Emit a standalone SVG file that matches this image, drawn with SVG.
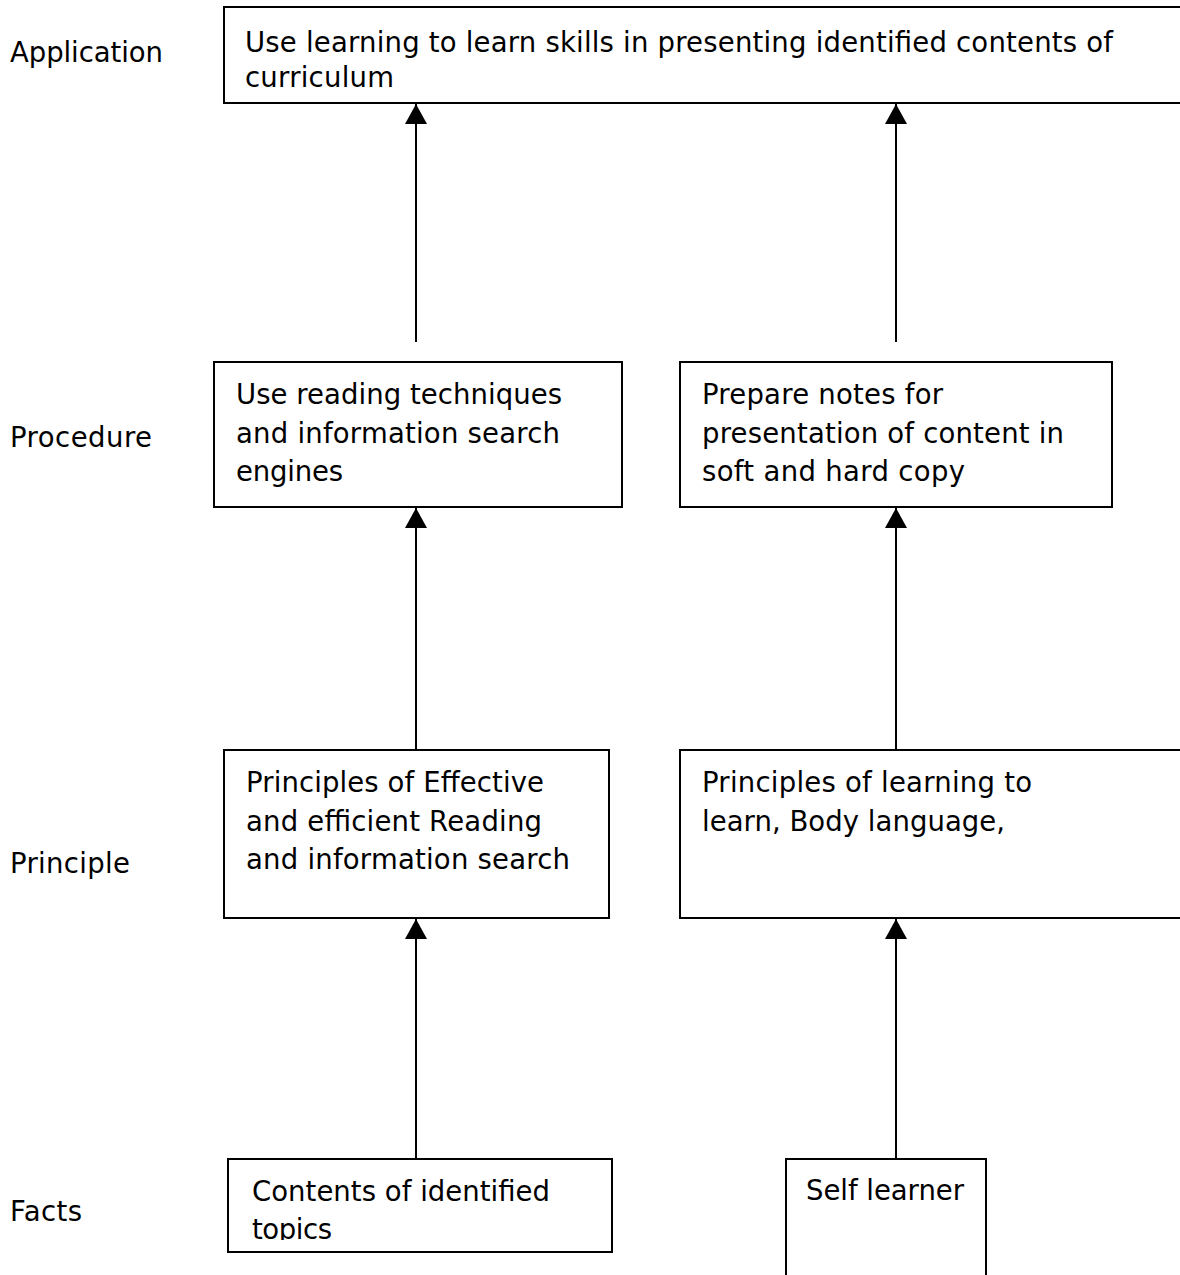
<svg xmlns="http://www.w3.org/2000/svg" width="1180" height="1275" viewBox="0 0 1180 1275">
<defs>
<style>
.t{font-family:"DejaVu Sans","Liberation Sans",sans-serif;font-size:27.5px;fill:#000}
.b{fill:#fff;stroke:#000;stroke-width:2}
.c{stroke:#000;stroke-width:2;fill:none}
</style>
<marker id="ah" viewBox="0 0 20 22" refX="20" refY="11" markerWidth="20" markerHeight="22" markerUnits="userSpaceOnUse" orient="auto">
<path d="M0,0 L20,11 L0,22 Z" fill="#000"/>
</marker>
<clipPath id="clipFacts"><rect x="229" y="1159" width="382" height="81"/></clipPath>
</defs>
<rect width="1180" height="1275" fill="#fff"/>
<g id="labels">
<text class="t" x="10" y="62" textLength="153">Application</text>
<text class="t" x="10" y="447" textLength="142">Procedure</text>
<text class="t" x="10" y="873" textLength="120">Principle</text>
<text class="t" x="10" y="1221" textLength="72">Facts</text>
</g>
<g id="connectors">
<line class="c" x1="416" y1="1158" x2="416" y2="919" marker-end="url(#ah)"/>
<line class="c" x1="896" y1="1158" x2="896" y2="919" marker-end="url(#ah)"/>
<line class="c" x1="416" y1="750" x2="416" y2="508" marker-end="url(#ah)"/>
<line class="c" x1="896" y1="750" x2="896" y2="508" marker-end="url(#ah)"/>
<line class="c" x1="416" y1="342" x2="416" y2="104" marker-end="url(#ah)"/>
<line class="c" x1="896" y1="342" x2="896" y2="104" marker-end="url(#ah)"/>
</g>
<g id="app">
<rect class="b" x="224" y="7" width="960" height="96"/>
<text class="t" x="245" y="52" textLength="868">Use learning to learn skills in presenting identified contents of</text>
<text class="t" x="245" y="87" textLength="149">curriculum</text>
</g>
<g id="proc1">
<rect class="b" x="214" y="362" width="408" height="145"/>
<text class="t" x="236" y="404" textLength="326">Use reading techniques</text>
<text class="t" x="236" y="443" textLength="324">and information search</text>
<text class="t" x="236" y="481" textLength="107">engines</text>
</g>
<g id="proc2">
<rect class="b" x="680" y="362" width="432" height="145"/>
<text class="t" x="702" y="404" textLength="241">Prepare notes for</text>
<text class="t" x="702" y="443" textLength="362">presentation of content in</text>
<text class="t" x="702" y="481" textLength="263">soft and hard copy</text>
</g>
<g id="prin1">
<rect class="b" x="224" y="750" width="385" height="168"/>
<text class="t" x="246" y="792" textLength="298">Principles of Effective</text>
<text class="t" x="246" y="831" textLength="296">and efficient Reading</text>
<text class="t" x="246" y="869" textLength="324">and information search</text>
</g>
<g id="prin2">
<rect class="b" x="680" y="750" width="504" height="168"/>
<text class="t" x="702" y="792" textLength="330">Principles of learning to</text>
<text class="t" x="702" y="831" textLength="303">learn, Body language,</text>
</g>
<g id="fact1">
<rect class="b" x="228" y="1159" width="384" height="93"/>
<g clip-path="url(#clipFacts)">
<text class="t" x="252" y="1201" textLength="298">Contents of identified</text>
<text class="t" x="252" y="1239" textLength="80">topics</text>
</g>
</g>
<g id="fact2">
<rect class="b" x="786" y="1159" width="200" height="130"/>
<text class="t" x="806" y="1200" textLength="158">Self learner</text>
</g>
</svg>
